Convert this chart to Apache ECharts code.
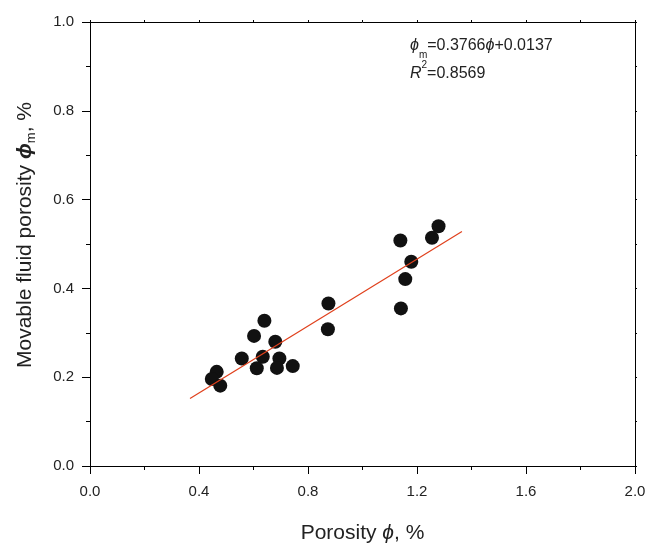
<!DOCTYPE html>
<html>
<head>
<meta charset="utf-8">
<script src="https://cdn.jsdelivr.net/npm/echarts@6/dist/echarts.min.js"></script>
<style>html,body{margin:0;padding:0;background:#fff}#c{width:653px;height:545px}</style>
</head>
<body>
<div id="c"></div>
<script>
// Measured points: porosity (x) and movable fluid porosity (y)
const porosity = [0.465, 0.447, 0.478, 0.557, 0.602, 0.640, 0.634, 0.612, 0.680, 0.695, 0.686, 0.744, 0.875, 0.873, 1.139, 1.279, 1.255, 1.179, 1.157, 1.141];
const movable  = [0.212, 0.196, 0.181, 0.242, 0.293, 0.327, 0.246, 0.220, 0.280, 0.242, 0.221, 0.225, 0.366, 0.308, 0.508, 0.540, 0.514, 0.460, 0.421, 0.355];
// Fitted line endpoints
const fitX = [0.367, 1.365];
const fitY = [0.152, 0.528];
const xTicks = [0.0, 0.4, 0.8, 1.2, 1.6, 2.0];
const yTicks = [0.0, 0.2, 0.4, 0.6, 0.8, 1.0];

const font = '"Liberation Sans", Arial, sans-serif';
const txt = '#222';
const chart = echarts.init(document.getElementById('c'));
const axisBase = {
  type: 'value',
  axisLine: { show: true, onZero: false, lineStyle: { color: '#000', width: 1 } },
  splitLine: { show: false },
};
chart.setOption({
  animation: false,
  backgroundColor: '#fff',
  grid: { left: 90, right: 18, top: 22, bottom: 79, containLabel: false, outerBoundsMode: 'none' },
  xAxis: [
    Object.assign({}, axisBase, {
      position: 'bottom', min: xTicks[0], max: xTicks[xTicks.length - 1], interval: 0.4,
      axisTick: { show: true, length: 8, lineStyle: { color: '#000' } },
      minorTick: { show: true, splitNumber: 2, length: 4, lineStyle: { color: '#000' } },
      axisLabel: { margin: 18, fontSize: 15, color: txt, fontFamily: font, formatter: v => v.toFixed(1) },
      name: '{a|Porosity }{b|ϕ}{a|, %}', nameLocation: 'middle', nameGap: 57,
      nameTextStyle: { fontFamily: font, color: txt, rich: { a: { fontSize: 21, fontFamily: font, color: txt }, b: { fontSize: 21, fontStyle: 'italic', fontFamily: font, color: txt } } }
    }),
    Object.assign({}, axisBase, {
      position: 'top', min: 0, max: 2, interval: 0.4,
      axisTick: { show: true, length: 2, lineStyle: { color: '#000' } },
      minorTick: { show: true, splitNumber: 2, length: 2, lineStyle: { color: '#000' } },
      axisLabel: { show: false }
    })
  ],
  yAxis: [
    Object.assign({}, axisBase, {
      position: 'left', min: yTicks[0], max: yTicks[yTicks.length - 1], interval: 0.2,
      axisTick: { show: true, length: 8, lineStyle: { color: '#000' } },
      minorTick: { show: true, splitNumber: 2, length: 4, lineStyle: { color: '#000' } },
      axisLabel: { margin: 16, fontSize: 15, color: txt, fontFamily: font, formatter: v => v.toFixed(1) },
      name: '{a|Movable fluid porosity }{b|ϕ}{s|m}{a|, %}', nameLocation: 'middle', nameGap: 52, nameRotate: 90,
      nameTextStyle: { fontFamily: font, color: txt, padding: [0, 0, 0, 18], rich: {
        a: { fontSize: 21, fontFamily: font, color: txt, lineHeight: 26 },
        b: { fontSize: 21, fontStyle: 'italic', fontWeight: 'bold', fontFamily: font, color: txt, lineHeight: 26 },
        s: { fontSize: 13, fontFamily: font, color: txt, verticalAlign: 'bottom', lineHeight: 26 }
      } }
    }),
    Object.assign({}, axisBase, {
      position: 'right', min: 0, max: 1, interval: 0.2,
      axisTick: { show: true, length: 2, lineStyle: { color: '#000' } },
      minorTick: { show: true, splitNumber: 2, length: 2, lineStyle: { color: '#000' } },
      axisLabel: { show: false }
    })
  ],
  series: [
    {
      type: 'line', xAxisIndex: 0, yAxisIndex: 0,
      data: fitX.map((x, i) => [x, fitY[i]]),
      showSymbol: false, symbol: 'none',
      lineStyle: { color: '#e0401c', width: 1.2 }, z: 3
    },
    {
      type: 'scatter', xAxisIndex: 0, yAxisIndex: 0,
      data: porosity.map((x, i) => [x, movable[i]]),
      symbol: 'circle', symbolSize: 14,
      itemStyle: { color: '#111', opacity: 1 }, z: 2
    }
  ],
  graphic: [
    {
      type: 'text', left: 410, top: 38,
      style: {
        text: '{i|ϕ}{s|m}{n|=0.3766}{i|ϕ}{n|+0.0137}\n{i|R}{p|2}{n|=0.8569}',
        fill: txt, font: '16px ' + font,
        rich: {
          n: { fontSize: 16, fontFamily: font, fill: txt, lineHeight: 28, verticalAlign: 'middle' },
          i: { fontSize: 16, fontStyle: 'italic', fontFamily: font, fill: txt, lineHeight: 28, verticalAlign: 'middle' },
          s: { fontSize: 10, fontFamily: font, fill: txt, verticalAlign: 'bottom', lineHeight: 20 },
          p: { fontSize: 10, fontFamily: font, fill: txt, verticalAlign: 'top', lineHeight: 18 }
        }
      }
    }
  ]
});
</script>
</body>
</html>
